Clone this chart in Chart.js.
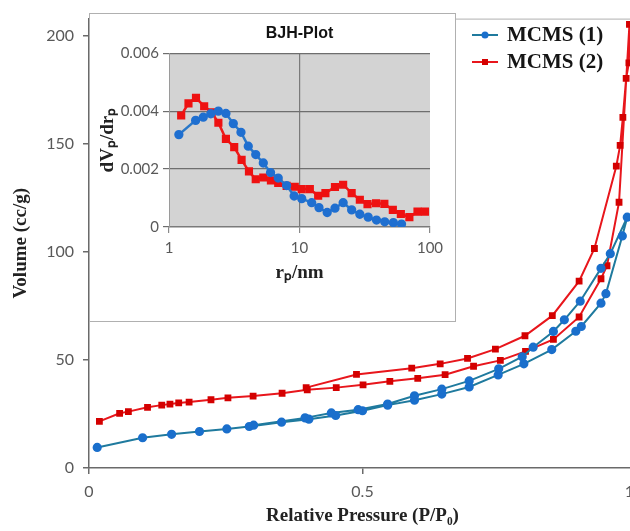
<!DOCTYPE html>
<html>
<head>
<meta charset="utf-8">
<script src="https://cdn.jsdelivr.net/npm/chart.js@4"></script>
<style>
  html, body { margin: 0; padding: 0; background: #fff; overflow: hidden; }
  #wrap { position: relative; width: 630px; height: 531px; overflow: hidden; }
  #main-box { position: absolute; left: 0; top: 0; width: 660px; height: 531px; }
  #inset-box { position: absolute; left: 89px; top: 13px; width: 365px; height: 307px;
               background: #fff; border: 1px solid #b0b0b0; }
</style>
</head>
<body>
<div id="wrap">
  <div id="main-box"><canvas id="main-chart" width="660" height="531"></canvas></div>
  <div id="inset-box"><canvas id="bjh-chart" width="365" height="307"></canvas></div>
</div>
<script>
// Isotherm data, MCMS (1): adsorption branch then desorption branch
var mcms1AdsP = [0.015, 0.098, 0.151, 0.202, 0.252, 0.293, 0.352, 0.402, 0.451, 0.500, 0.546, 0.595, 0.645, 0.695, 0.748, 0.795, 0.846, 0.890, 0.900, 0.936, 0.945, 0.975, 0.984];
var mcms1AdsV = [9.5, 14.0, 15.6, 16.9, 18.1, 19.2, 21.2, 22.6, 24.3, 26.5, 29.1, 31.4, 34.2, 37.5, 43.1, 48.2, 54.8, 63.3, 65.5, 76.3, 80.7, 107.4, 116.1];
var mcms1DesP = [0.953, 0.936, 0.898, 0.869, 0.849, 0.812, 0.792, 0.749, 0.695, 0.645, 0.595, 0.546, 0.492, 0.443, 0.395, 0.301];
var mcms1DesV = [99.2, 92.4, 77.2, 68.6, 63.2, 55.9, 51.5, 45.9, 40.3, 36.5, 33.4, 29.6, 27.0, 25.5, 23.2, 19.8];

// MCMS (2)
var mcms2AdsP = [0.019, 0.056, 0.072, 0.107, 0.133, 0.148, 0.164, 0.183, 0.223, 0.254, 0.300, 0.353, 0.399, 0.452, 0.501, 0.550, 0.601, 0.651, 0.703, 0.752, 0.798, 0.849, 0.896, 0.936, 0.947, 0.969, 0.988];
var mcms2AdsV = [21.6, 25.3, 26.1, 28.1, 29.1, 29.6, 30.1, 30.5, 31.6, 32.5, 33.3, 34.6, 36.2, 37.2, 38.5, 40.1, 41.5, 43.2, 47.1, 49.8, 54.0, 59.5, 69.9, 87.6, 93.6, 123.0, 205.3];
var mcms2DesP = [0.987, 0.982, 0.976, 0.971, 0.964, 0.924, 0.896, 0.847, 0.797, 0.743, 0.692, 0.642, 0.590, 0.489, 0.397];
var mcms2DesV = [187.5, 180.3, 162.3, 149.3, 139.7, 101.6, 86.5, 70.5, 61.2, 55.0, 50.7, 48.2, 46.2, 43.3, 37.2];

// BJH pore size distribution (inset)
var bjh1R = [1.19, 1.60, 1.83, 2.09, 2.39, 2.73, 3.11, 3.56, 4.05, 4.62, 5.28, 6.0, 6.87, 7.97, 9.1, 10.4, 12.4, 14.1, 16.3, 18.7, 21.6, 25.1, 29.0, 33.6, 38.9, 45.0, 52.4, 60.5];
var bjh1D = [0.00319, 0.00368, 0.00379, 0.00391, 0.00400, 0.00392, 0.00357, 0.00327, 0.00279, 0.00250, 0.00221, 0.00188, 0.00169, 0.00143, 0.00107, 0.00098, 0.00084, 0.00067, 0.00050, 0.00065, 0.00084, 0.00059, 0.00044, 0.00034, 0.00024, 0.00018, 0.00015, 0.00010];
var bjh2R = [1.24, 1.41, 1.61, 1.86, 2.12, 2.39, 2.73, 3.16, 3.6, 4.1, 4.62, 5.28, 6.04, 6.87, 7.97, 9.2, 10.4, 12.0, 13.9, 15.8, 18.7, 21.6, 25.1, 29.0, 33.2, 38.6, 44.7, 51.9, 59.8, 69.5, 80.2, 91.5];
var bjh2D = [0.00385, 0.00427, 0.00446, 0.00417, 0.00396, 0.00360, 0.00304, 0.00276, 0.00232, 0.00192, 0.00165, 0.00171, 0.00161, 0.00152, 0.00142, 0.00139, 0.00131, 0.00131, 0.00108, 0.00117, 0.00138, 0.00146, 0.00117, 0.00094, 0.00079, 0.00082, 0.00080, 0.00059, 0.00045, 0.00034, 0.00053, 0.00053];

var seriesNames = ["MCMS (1)", "MCMS (2)"];
var pressureTicks = [0, 0.5, 1];
var volumeTicks = [0, 50, 100, 150, 200];
var radiusTicks = [1, 10, 100];
var dvTicks = [0, 0.002, 0.004, 0.006];

var blueLine = "#1f7a9e", blueDot = "#1a6fcc";
var redLine = "#e8161c", redDot = "#d40000";
var tickGrey = "#595959";

function toPoints(xs, ys) {
  return xs.map(function (x, i) { return {x: x, y: ys[i]}; });
}

// draws the legend in the top right corner of the main plot
var legendPlugin = {
  id: "cornerLegend",
  afterDatasetsDraw: function (chart) {
    var ctx = chart.ctx;
    ctx.save();
    chart.data.datasets.forEach(function (ds, i) {
      var y = 35 + i * 27, x0 = 472;
      ctx.strokeStyle = ds.borderColor;
      ctx.lineWidth = 2;
      ctx.beginPath(); ctx.moveTo(x0, y); ctx.lineTo(x0 + 26, y); ctx.stroke();
      ctx.fillStyle = ds.pointBackgroundColor;
      ctx.beginPath();
      if (ds.pointStyle === "rect") ctx.rect(x0 + 10, y - 3, 6, 6);
      else ctx.arc(x0 + 13, y, 3.5, 0, Math.PI * 2);
      ctx.fill();
      ctx.fillStyle = "#151515";
      ctx.font = "bold 21px 'Liberation Serif'";
      ctx.textBaseline = "middle";
      ctx.fillText(ds.label, x0 + 35, y + 1);
    });
    ctx.restore();
  }
};

var topBorder = {
  id: "topBorder",
  afterDraw: function (chart) {
    var a = chart.chartArea, ctx = chart.ctx;
    ctx.save();
    ctx.strokeStyle = "#b0b0b0";
    ctx.lineWidth = 1;
    ctx.beginPath(); ctx.moveTo(a.left, a.top + 0.5); ctx.lineTo(a.right, a.top + 0.5); ctx.stroke();
    ctx.restore();
  }
};

var mainChart = new Chart(document.getElementById("main-chart"), {
  type: "scatter",
  data: {
    datasets: [{
      label: seriesNames[0],
      data: toPoints(mcms1AdsP.concat(mcms1DesP), mcms1AdsV.concat(mcms1DesV)),
      showLine: true,
      borderColor: blueLine,
      borderWidth: 2,
      pointStyle: "circle",
      pointRadius: 3.6,
      pointBackgroundColor: blueDot,
      pointBorderColor: blueDot
    }, {
      label: seriesNames[1],
      data: toPoints(mcms2AdsP.concat(mcms2DesP), mcms2AdsV.concat(mcms2DesV)),
      showLine: true,
      borderColor: redLine,
      borderWidth: 2,
      pointStyle: "rect",
      pointRadius: 3.4,
      pointBackgroundColor: redDot,
      pointBorderColor: redDot
    }]
  },
  options: {
    responsive: false,
    animation: false,
    layout: {padding: {top: 14, right: 24, left: 0, bottom: 0}},
    plugins: {legend: {display: false}, tooltip: {enabled: false}},
    scales: {
      x: {
        type: "linear", min: 0, max: 1,
        afterBuildTicks: function (s) { s.ticks = pressureTicks.map(function (v) { return {value: v}; }); },
        afterFit: function (s) { s.height = 63; },
        grid: {drawOnChartArea: false, tickLength: 6, color: "#6a6a6a", lineWidth: 1.5},
        border: {color: "#6a6a6a", width: 1.5},
        ticks: {color: tickGrey, font: {family: "Lato", size: 16}, padding: 8, maxRotation: 0},
        title: {display: true, text: "Relative Pressure (P/P\u2080)", color: "#222",
                font: {family: "'Liberation Serif'", size: 19, weight: "bold"}, padding: {top: 0, bottom: 4}}
      },
      y: {
        min: 0, max: 208,
        afterBuildTicks: function (s) { s.ticks = volumeTicks.map(function (v) { return {value: v}; }); },
        afterFit: function (s) { s.width = 89; },
        grid: {drawOnChartArea: false, tickLength: 6, color: "#6a6a6a", lineWidth: 1.5},
        border: {color: "#6a6a6a", width: 1.5},
        ticks: {color: tickGrey, font: {family: "Lato", size: 16}, padding: 9},
        title: {display: true, text: "Volume (cc/g)", color: "#222",
                font: {family: "'Liberation Serif'", size: 19, weight: "bold"}, padding: {top: 10, bottom: 0}}
      }
    }
  },
  plugins: [legendPlugin, topBorder]
});

// grey plot background for the inset
var plotBg = {
  id: "plotBg",
  beforeDraw: function (chart) {
    var a = chart.chartArea, ctx = chart.ctx;
    ctx.save();
    ctx.fillStyle = "#d3d3d3";
    ctx.fillRect(a.left, a.top, a.right - a.left, a.bottom - a.top);
    ctx.restore();
  }
};

var bjhChart = new Chart(document.getElementById("bjh-chart"), {
  type: "scatter",
  data: {
    datasets: [{
      label: seriesNames[0],
      data: toPoints(bjh1R, bjh1D),
      showLine: true,
      borderColor: "#2a78c8",
      borderWidth: 2.5,
      pointStyle: "circle",
      pointRadius: 3.4,
      pointBackgroundColor: "#1f6fd0",
      pointBorderColor: "#1f6fd0"
    }, {
      label: seriesNames[1],
      data: toPoints(bjh2R, bjh2D),
      showLine: true,
      borderColor: "#ee1a1a",
      borderWidth: 2.5,
      pointStyle: "rect",
      pointRadius: 4,
      pointBackgroundColor: "#ee1111",
      pointBorderColor: "#ee1111"
    }]
  },
  options: {
    responsive: false,
    animation: false,
    layout: {padding: {top: 0, right: 25, left: 0, bottom: 0}},
    plugins: {
      legend: {display: false},
      tooltip: {enabled: false},
      title: {display: true, text: "BJH-Plot", fullSize: false, color: "#111",
              font: {family: "'Liberation Sans'", size: 16, weight: "bold"}, padding: {top: 10, bottom: 10}}
    },
    scales: {
      x: {
        type: "logarithmic", min: 1, max: 100,
        afterBuildTicks: function (s) { s.ticks = radiusTicks.map(function (v) { return {value: v}; }); },
        afterFit: function (s) { s.height = 94; },
        grid: {
          color: function (c) { return c.tick && c.tick.value === 10 ? "#7a7a7a" : "rgba(0,0,0,0)"; },
          tickColor: "#8a8a8a", tickLength: 6, lineWidth: 1.2
        },
        border: {color: "#7a7a7a", width: 1.5},
        ticks: {color: tickGrey, font: {family: "Lato", size: 15}, padding: 6, maxRotation: 0,
                callback: function (v) { return String(v); }},
        title: {display: true, text: "r\u209a/nm", color: "#222",
                font: {family: "'Liberation Serif'", size: 19, weight: "bold"}, padding: {top: 0, bottom: 37}}
      },
      y: {
        min: 0, max: 0.006,
        afterBuildTicks: function (s) { s.ticks = dvTicks.map(function (v) { return {value: v}; }); },
        afterFit: function (s) { s.width = 79; },
        grid: {
          color: function (c) { return c.tick && c.tick.value === 0 ? "rgba(0,0,0,0)" : "#6e6e6e"; },
          tickColor: "#6e6e6e", tickLength: 6, lineWidth: 1.2
        },
        border: {color: "#9a9a9a", width: 1},
        ticks: {color: tickGrey, font: {family: "Lato", size: 15}, padding: 4,
                callback: function (v) { return v === 0 ? "0" : v.toFixed(3); }},
        title: {display: true, text: "dV\u209a/dr\u209a", color: "#222",
                font: {family: "'Liberation Serif'", size: 19, weight: "bold"}, padding: {top: 7, bottom: 0}}
      }
    }
  },
  plugins: [plotBg]
});
</script>
</body>
</html>
